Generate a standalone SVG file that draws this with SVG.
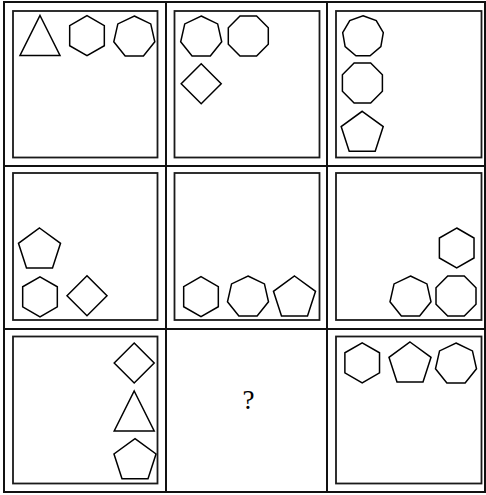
<svg xmlns="http://www.w3.org/2000/svg" xmlns:xlink="http://www.w3.org/1999/xlink" width="486" height="495" viewBox="0 0 486 495">
<style>
.grid{fill:none;stroke:#111;stroke-width:2}
.frame{fill:none;stroke:#1a1a1a;stroke-width:1.8}
.sh{fill:none;stroke:#000;stroke-width:1.5;stroke-linejoin:miter}
.q{font-family:"Liberation Serif","Times New Roman",serif;font-size:27px;fill:#000}
</style>
<defs>
<polygon id="tri" class="sh" points="0,-20 20,20 -20,20"/>
<polygon id="dia" class="sh" points="0,-20 20,0 0,20 -20,0"/>
<polygon id="pent" class="sh" points="0,-20 21.03,-4.72 13,20 -13,20 -21.03,-4.72"/>
<polygon id="hex" class="sh" points="0,-20 17.32,-10 17.32,10 0,20 -17.32,10 -17.32,-10"/>
<polygon id="hept" class="sh" points="0,-20 16.45,-12.08 20.51,5.72 9.13,20 -9.13,20 -20.51,5.72 -16.45,-12.08"/>
<polygon id="oct" class="sh" points="8.28,-20 20,-8.28 20,8.28 8.28,20 -8.28,20 -20,8.28 -20,-8.28 -8.28,-20"/>
<polygon id="non" class="sh" points="0,-20 13.25,-15.18 20.31,-2.96 17.86,10.93 7.05,20 -7.05,20 -17.86,10.93 -20.31,-2.96 -13.25,-15.18"/>
</defs>
<rect width="486" height="495" fill="#fff"/>
<g id="grid">
<rect class="grid" x="4" y="2" width="481" height="490"/>
<line class="grid" x1="166" y1="2" x2="166" y2="492"/>
<line class="grid" x1="327" y1="2" x2="327" y2="492"/>
<line class="grid" x1="4" y1="166" x2="485" y2="166"/>
<line class="grid" x1="4" y1="329" x2="485" y2="329"/>
</g>
<g id="cell-1-1">
<rect class="frame" x="13" y="11" width="144.5" height="146.5"/>
<use xlink:href="#tri" href="#tri" x="40" y="35.5"/>
<use xlink:href="#hex" href="#hex" x="87" y="35.7"/>
<use xlink:href="#hept" href="#hept" x="134.3" y="36"/>
</g>
<g id="cell-1-2">
<rect class="frame" x="174.5" y="11" width="145" height="146.5"/>
<use xlink:href="#hept" href="#hept" x="201.2" y="36"/>
<use xlink:href="#oct" href="#oct" x="248.3" y="36"/>
<use xlink:href="#dia" href="#dia" x="201.2" y="83.8"/>
</g>
<g id="cell-1-3">
<rect class="frame" x="336" y="11" width="145.5" height="146.5"/>
<use xlink:href="#non" href="#non" x="363" y="35.7"/>
<use xlink:href="#oct" href="#oct" x="362.4" y="83"/>
<use xlink:href="#pent" href="#pent" x="362.2" y="131.3"/>
</g>
<g id="cell-2-1">
<rect class="frame" x="13" y="173" width="144.5" height="147"/>
<use xlink:href="#pent" href="#pent" x="39.5" y="248"/>
<use xlink:href="#hex" href="#hex" x="40" y="296.8"/>
<use xlink:href="#dia" href="#dia" x="87" y="295.7"/>
</g>
<g id="cell-2-2">
<rect class="frame" x="174.5" y="173" width="145" height="147"/>
<use xlink:href="#hex" href="#hex" x="201" y="296.7"/>
<use xlink:href="#hept" href="#hept" x="248" y="296"/>
<use xlink:href="#pent" href="#pent" x="294.5" y="296"/>
</g>
<g id="cell-2-3">
<rect class="frame" x="336" y="173" width="145.5" height="147"/>
<use xlink:href="#hex" href="#hex" x="456.7" y="248"/>
<use xlink:href="#hept" href="#hept" x="410.5" y="296"/>
<use xlink:href="#oct" href="#oct" x="456" y="296"/>
</g>
<g id="cell-3-1">
<rect class="frame" x="13" y="336.5" width="144.5" height="147"/>
<use xlink:href="#dia" href="#dia" x="134.2" y="363"/>
<use xlink:href="#tri" href="#tri" x="134.2" y="411"/>
<use xlink:href="#pent" href="#pent" x="135" y="458.7"/>
</g>
<g id="cell-3-2">
<text class="q" x="248.5" y="408.5" text-anchor="middle">?</text>
</g>
<g id="cell-3-3">
<rect class="frame" x="336" y="336.5" width="145.5" height="147"/>
<use xlink:href="#hex" href="#hex" x="362.2" y="362.8"/>
<use xlink:href="#pent" href="#pent" x="410" y="362"/>
<use xlink:href="#hept" href="#hept" x="456" y="363"/>
</g>
</svg>
